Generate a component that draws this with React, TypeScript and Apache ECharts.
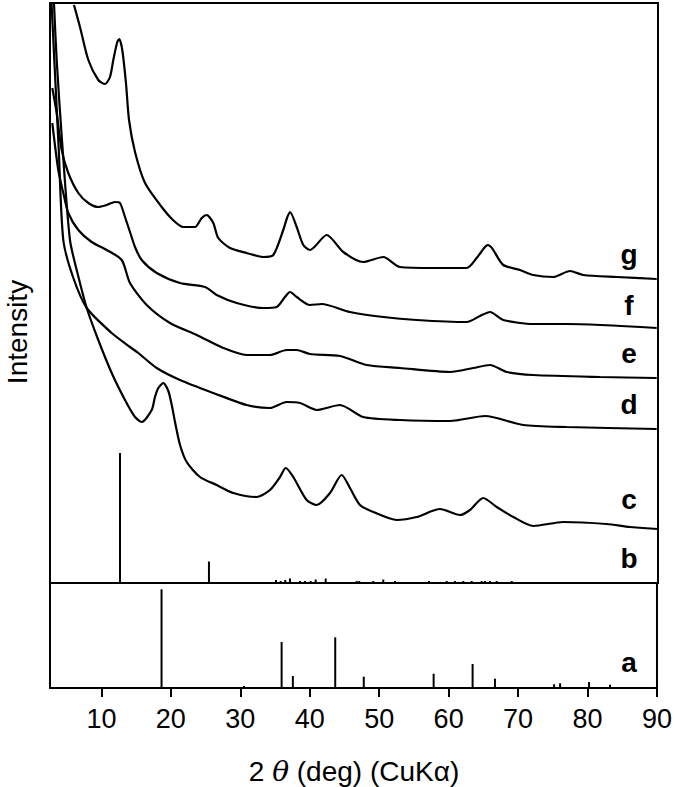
import React, { useEffect, useRef } from "react";
import * as echarts from "echarts";

// 2θ range and tick labels
const xMin = 2.6;
const xMax = 90;
const xTicks = [10, 20, 30, 40, 50, 60, 70, 80, 90];

// Patterns (2θ in degrees, intensity in arbitrary units, stacked with offsets)
const patternG: [number, number][] = [
  [6.05, 578], [6.91, 556], [8.11, 523], [9.54, 503], [10.51, 499], [11.22, 506], [11.7, 523],
  [12.27, 541], [12.56, 544], [12.99, 533], [13.52, 500], [13.96, 463], [14.82, 431], [16.26, 400],
  [18.66, 376], [20.28, 363], [21.76, 356], [23.44, 356], [24.41, 365], [25.12, 368], [26.07, 360],
  [26.79, 345], [28.47, 335], [30.87, 330], [33.26, 326], [34.7, 328], [36.13, 353], [36.67, 365],
  [37.1, 371], [38.06, 356], [39.01, 338], [39.97, 333], [42.37, 348], [44.76, 331], [47.63, 321],
  [50.51, 326], [52.91, 316], [57.7, 315], [62.5, 315], [63.93, 325], [65.13, 336], [65.56, 338],
  [66.0, 336], [66.32, 333], [67.76, 318], [70.16, 313], [72.07, 308], [74.95, 306], [77.35, 312],
  [79.26, 308], [84.06, 306], [89.81, 304],
];
const patternF: [number, number][] = [
  [2.93, 495], [3.56, 470], [4.28, 433], [5.23, 410], [6.67, 390], [8.11, 380], [9.54, 376],
  [10.75, 378], [11.94, 381], [12.66, 380], [13.38, 366], [14.1, 351], [14.82, 336], [15.78, 323],
  [17.94, 310], [21.29, 300], [24.88, 296], [26.56, 288], [29.44, 280], [33.26, 275], [35.19, 276],
  [36.38, 286], [37.1, 291], [38.06, 286], [39.97, 278], [41.65, 279], [45.72, 271], [50.51, 266],
  [55.31, 263], [62.5, 261], [64.41, 267], [65.85, 271], [67.76, 263], [72.07, 259], [76.87, 259],
  [89.81, 255],
];
const patternE: [number, number][] = [
  [2.93, 460], [3.79, 413], [4.51, 390], [5.23, 370], [6.67, 353], [8.59, 341], [10.75, 333],
  [12.91, 323], [14.1, 300], [16.5, 278], [19.85, 260], [23.69, 248], [27.51, 235], [30.87, 228],
  [34.22, 228], [36.62, 233], [38.06, 233], [39.97, 229], [44.28, 227], [48.12, 218], [52.91, 215],
  [60.1, 211], [63.45, 215], [65.85, 218], [68.25, 211], [72.07, 208], [81.66, 206], [89.81, 205],
];
const patternD: [number, number][] = [
  [2.82, 580], [3.22, 523], [3.86, 433], [4.51, 343], [5.91, 306], [7.88, 275], [11.47, 250],
  [14.1, 236], [15.29, 230], [17.94, 215], [21.29, 203], [26.07, 190], [30.87, 178], [34.22, 175],
  [36.62, 181], [38.54, 180], [40.94, 173], [44.28, 178], [47.63, 166], [52.91, 163], [60.1, 162],
  [65.13, 167], [70.63, 158], [76.87, 156], [89.81, 154],
];
const patternC: [number, number][] = [
  [3.17, 580], [3.56, 523], [4.32, 443], [5.47, 343], [6.62, 308], [7.88, 275], [9.54, 243],
  [11.47, 210], [13.38, 183], [14.82, 166], [15.78, 161], [17.22, 173], [17.69, 186], [18.17, 195],
  [18.89, 200], [19.61, 192], [20.1, 178], [20.6, 160], [21.29, 138], [22.25, 121],
  [24.16, 106], [26.56, 98], [28.95, 90], [32.31, 86], [34.22, 93], [35.66, 106], [36.48, 115],
  [37.57, 106], [39.5, 83], [40.94, 78], [42.85, 90], [44.53, 108], [45.72, 95], [47.16, 78],
  [49.07, 71], [52.44, 63], [55.31, 66], [58.66, 74], [61.53, 68], [62.97, 73], [64.88, 85],
  [66.81, 76], [69.2, 66], [72.07, 57], [76.38, 61], [82.62, 59], [85.97, 56], [89.99, 54],
];

// Reference stick pattern b (top panel)
const stickBAngles = [
  12.66, 25.45, 35.09, 35.76, 36.42, 37.1, 38.54, 39.25, 40.07, 40.79, 42.23, 46.69, 47.06,
  49.07, 50.51, 52.19, 57.08, 59.62, 60.81, 62.01, 63.21, 64.65, 65.12, 65.85, 66.81, 68.97,
];
const stickBHeights = [
  130, 21.5, 3, 2, 3, 4.5, 2, 2, 2, 3.5, 4.5, 2, 2, 2, 3.5, 2, 2, 2, 2, 2, 2, 2, 2, 2, 2, 2,
];

// Reference stick pattern a (bottom panel)
const stickAAngles = [18.66, 30.53, 35.95, 37.57, 43.67, 47.78, 57.84, 63.45, 66.67, 75.19, 76.05, 80.22, 83.24];
const stickAHeights = [98.7, 2, 46, 12, 50.7, 11.3, 14.3, 24, 9.3, 3.7, 4.7, 6, 3.3];

const patternLabels = ["g", "f", "e", "d", "c", "b", "a"];

const FONT = "'Liberation Sans', Arial, Helvetica, sans-serif";

export default function App() {
  const ref = useRef<HTMLDivElement>(null);

  useEffect(() => {
    if (!ref.current) return;
    const chart = echarts.init(ref.current, undefined, { renderer: "svg" });

    const stickRender = (params: any, api: any) => {
      const x = api.value(0);
      const h = api.value(1);
      const p0 = api.coord([x, 0]);
      const p1 = api.coord([x, h]);
      return {
        type: "line",
        shape: { x1: p0[0], y1: p0[1], x2: p1[0], y2: p1[1] },
        style: { stroke: "#000", lineWidth: 2 },
      };
    };

    const lineSeries = (name: string, data: [number, number][]) => ({
      name,
      type: "line",
      xAxisIndex: 0,
      yAxisIndex: 0,
      data,
      showSymbol: false,
      symbol: "none",
      smooth: 0.25,
      lineStyle: { color: "#000", width: 2.2 },
      clip: true,
    });

    // label centers (y) for the pattern letters
    const labelY = [254, 305, 353, 404, 499, 558, 662];

    chart.setOption({
      animation: false,
      backgroundColor: "#fff",
      grid: [
        { left: 50, top: 3, width: 608, height: 580, show: true, borderColor: "#000", borderWidth: 2, backgroundColor: "transparent" },
        { left: 50, top: 583, width: 608, height: 105, show: true, borderColor: "#000", borderWidth: 2, backgroundColor: "transparent" },
      ],
      xAxis: [
        { gridIndex: 0, type: "value", min: xMin, max: xMax, show: false },
        {
          gridIndex: 1,
          type: "value",
          min: xMin,
          max: xMax,
          position: "bottom",
          offset: 3,
          axisLine: { show: true, lineStyle: { color: "#000", width: 2 } },
          axisTick: { show: true, inside: false, length: 9, customValues: xTicks, lineStyle: { color: "#000", width: 2 } },
          axisLabel: { show: true, customValues: xTicks, fontSize: 27, color: "#000", fontFamily: FONT, margin: 14 },
          splitLine: { show: false },
        },
      ],
      yAxis: [
        { gridIndex: 0, type: "value", min: 0, max: 580, show: false },
        { gridIndex: 1, type: "value", min: 0, max: 105, show: false },
      ],
      series: [
        lineSeries("g", patternG),
        lineSeries("f", patternF),
        lineSeries("e", patternE),
        lineSeries("d", patternD),
        lineSeries("c", patternC),
        {
          name: "b",
          type: "custom",
          xAxisIndex: 0,
          yAxisIndex: 0,
          renderItem: stickRender,
          data: stickBAngles.map((a, i) => [a, stickBHeights[i]]),
        },
        {
          name: "a",
          type: "custom",
          xAxisIndex: 1,
          yAxisIndex: 1,
          renderItem: stickRender,
          data: stickAAngles.map((a, i) => [a, stickAHeights[i]]),
        },
      ],
      graphic: [
        ...patternLabels.map((t, i) => ({
          type: "text",
          x: 629,
          y: labelY[i],
          style: {
            text: t,
            fontSize: 28,
            fontWeight: "bold",
            fontFamily: FONT,
            fill: "#000",
            textAlign: "center",
            textVerticalAlign: "middle",
          },
        })),
        {
          type: "text",
          x: 17,
          y: 332,
          rotation: Math.PI / 2,
          style: {
            text: "Intensity",
            fontSize: 28,
            fontFamily: FONT,
            fill: "#000",
            textAlign: "center",
            textVerticalAlign: "middle",
          },
        },
        {
          type: "text",
          x: 354,
          y: 771,
          style: {
            text: "{a|2 }{b|θ}{a| (deg) (CuKα)}",
            textAlign: "center",
            textVerticalAlign: "middle",
            rich: {
              a: { fontSize: 28, fontFamily: FONT, fill: "#000" },
              b: { fontSize: 28, fontFamily: "'DejaVu Serif', 'Liberation Serif', serif", fontStyle: "italic", fill: "#000" },
            },
          },
        },
      ],
    });

    return () => chart.dispose();
  }, []);

  return (
    <div
      ref={ref}
      style={{ position: "absolute", left: 0, top: 0, width: 675, height: 787 }}
    />
  );
}
